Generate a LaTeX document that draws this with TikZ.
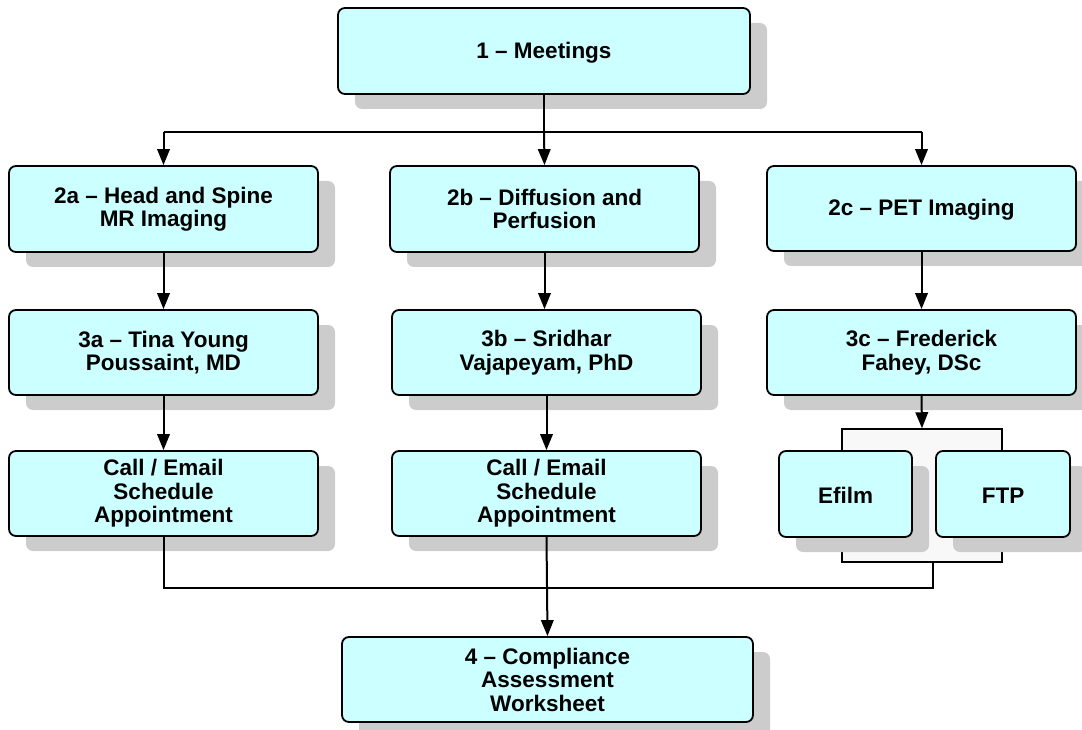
\documentclass[tikz,border=0pt]{standalone}
\usepackage{fontspec}
\setmainfont{Liberation Sans}
\usetikzlibrary{shadows,arrows.meta}
\definecolor{boxfill}{HTML}{CCFFFF}
\definecolor{shadowgray}{HTML}{CCCCCC}
\definecolor{groupfill}{HTML}{F8F8F8}
\tikzset{
  stepbox/.style={draw=black, line width=1.8pt, rounded corners=7pt, fill=boxfill,
    align=center, inner sep=0pt, font=\fontsize{22.5}{23.5}\selectfont\bfseries,
    execute at begin node={\rule{0pt}{19.5pt}},
    drop shadow={shadow xshift=17pt, shadow yshift=-15pt, fill=shadowgray, opacity=1}},
  groupbox/.style={draw=black, line width=1.5pt, fill=groupfill, inner sep=0pt},
  conn/.style={line width=2pt, draw=black},
  arr/.style={conn, -{Triangle[width=12.5pt,length=16pt]}}
}
\begin{document}
\begin{tikzpicture}[x=1pt,y=-1pt]
\useasboundingbox (0,0) rectangle (1082,730);
% nodes
\node[stepbox, minimum width=412pt, minimum height=86pt] (n1) at (544,51) {1 -- Meetings};
\node[stepbox, minimum width=309pt, minimum height=86pt] (n2a) at (163.5,209) {2a -- Head and Spine\\MR Imaging};
\node[stepbox, minimum width=309pt, minimum height=86pt] (n2b) at (544.5,209) {2b -- Diffusion and\\Perfusion};
\node[stepbox, minimum width=309pt, minimum height=85pt] (n2c) at (921.5,208.5) {2c -- PET Imaging};
\node[stepbox, minimum width=309pt, minimum height=85pt] (n3a) at (163.5,352.5) {3a -- Tina Young\\Poussaint, MD};
\node[stepbox, minimum width=309pt, minimum height=85pt] (n3b) at (546.5,352.5) {3b -- Sridhar\\Vajapeyam, PhD};
\node[stepbox, minimum width=309pt, minimum height=85pt] (n3c) at (921.5,352.5) {3c -- Frederick\\Fahey, DSc};
\node[stepbox, minimum width=309pt, minimum height=85pt] (c1) at (163.5,493.5) {Call / Email\\Schedule\\Appointment};
\node[stepbox, minimum width=309pt, minimum height=85pt] (c2) at (546.5,493.5) {Call / Email\\Schedule\\Appointment};
\node[groupbox, minimum width=160pt, minimum height=133pt] (grp) at (922,495.5) {};
\node[stepbox, minimum width=133pt, minimum height=86pt] (efilm) at (845.5,494) {Efilm};
\node[stepbox, minimum width=134pt, minimum height=86pt] (ftp) at (1003,494) {FTP};
\node[stepbox, minimum width=411pt, minimum height=85pt] (n4) at (547.5,679.5) {4 -- Compliance\\Assessment\\Worksheet};
% connectors
\coordinate (bus) at (544,132);
\draw[conn] (n1.south) -- (bus);
\draw[conn] (bus -| n2a) -- (bus -| n2c);
\draw[arr] (bus -| n2a) -- (n2a.north);
\draw[arr] (bus) -- (n2b.north);
\draw[arr] (bus -| n2c) -- (n2c.north);
\draw[arr] (n2a.south) -- (n3a.north);
\draw[arr] (n2b.south) -- (n2b.south |- n3b.north);
\draw[arr] (n2c.south) -- (n3c.north);
\draw[arr] (n3a.south) -- (c1.north);
\draw[arr] (n3b.south) -- (c2.north);
\draw[arr] (n3c.south) -- (grp.north);
\coordinate (gj) at (933,588);
\draw[conn] (c1.south) |- (gj) -- (gj |- grp.south);
\draw[arr] (c2.south) -- (n4.north);
\end{tikzpicture}
\end{document}
